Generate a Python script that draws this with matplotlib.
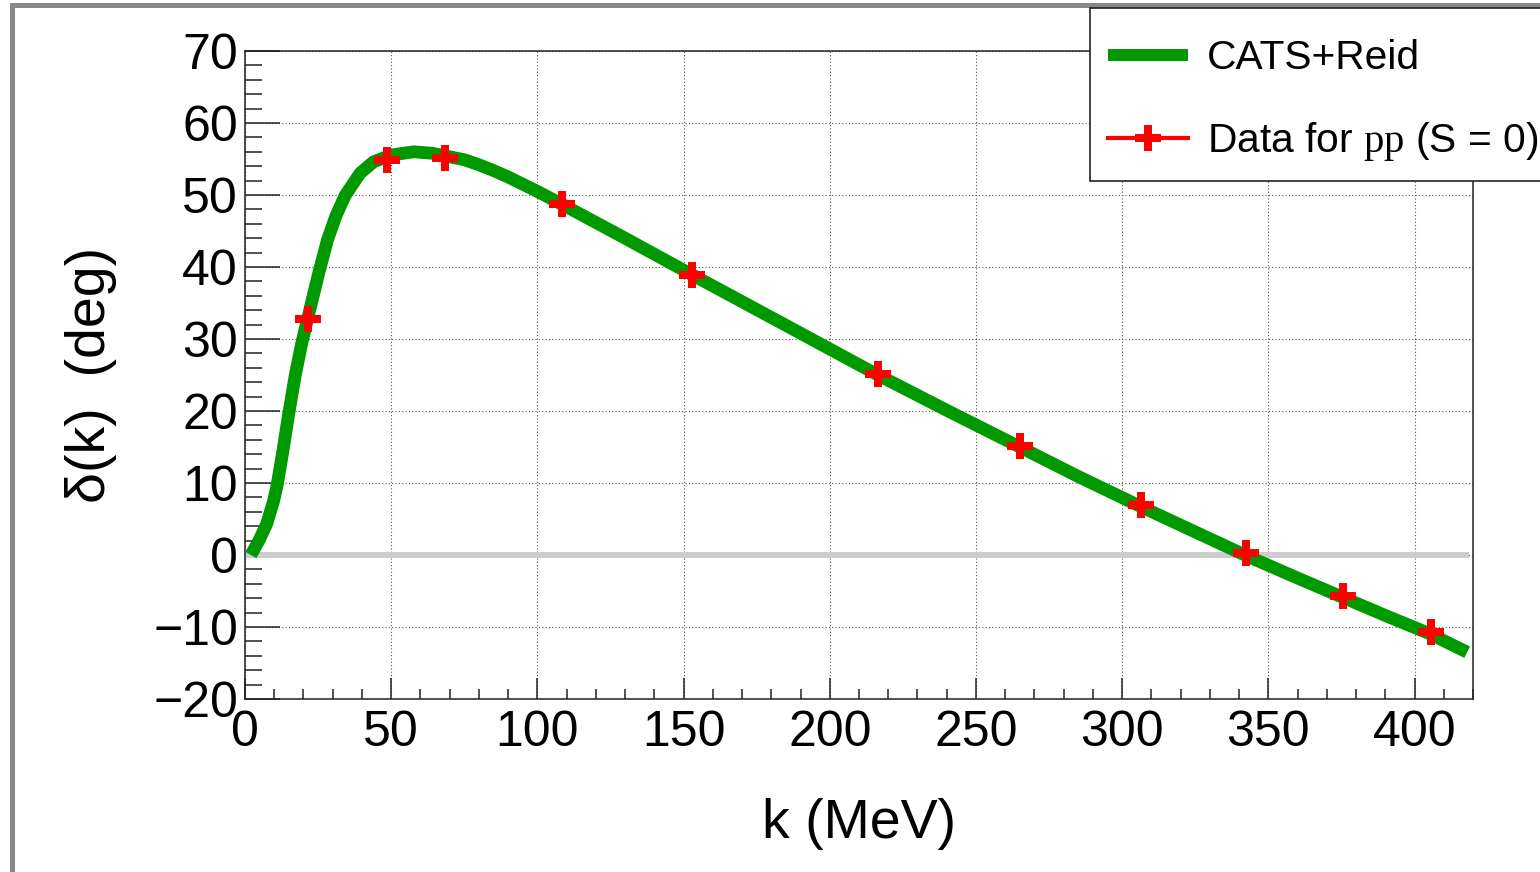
import matplotlib
matplotlib.use("Agg")
import matplotlib.pyplot as plt
from matplotlib.lines import Line2D
from matplotlib.patches import Rectangle
from matplotlib.ticker import MultipleLocator

plt.rcParams['font.family'] = ['Liberation Sans', 'DejaVu Sans']
plt.rcParams['mathtext.fontset'] = 'custom'
plt.rcParams['mathtext.rm'] = 'Liberation Serif'

# CATS+Reid curve
k_curve = [2, 3.4, 5, 7.4, 9.7, 10.95, 12.9, 14.9, 17.2, 19.5, 21.7, 25.3,
           28.2, 31, 34.2, 39.3, 43.9, 50, 57.6, 64, 70.1, 75, 80, 85, 90, 95,
           100, 108, 130, 153, 185, 216, 240, 265, 285, 306, 325, 343, 360,
           375, 390, 405, 418]
delta_curve = [0, 1.0, 2.2, 4.3, 7.4, 9.6, 14.3, 19.5, 25.0, 29.6, 33.3, 39.3,
               43.75, 47.0, 49.9, 53.0, 54.6, 55.55, 56.0, 55.8, 55.3, 54.9,
               54.2, 53.4, 52.5, 51.5, 50.5, 48.8, 44.0, 38.9, 31.9, 25.1,
               20.1, 15.0, 10.9, 6.8, 3.2, -0.2, -3.2, -5.8, -8.4, -10.9, -13.5]

# pp 1S0 data points
k_data = [21.6, 48.6, 68.4, 108.5, 153, 216.6, 265.2, 306.6, 342.5, 375.4, 405.5]
delta_data = [32.8, 54.9, 55.1, 48.75, 38.9, 25.1, 15.1, 6.9, 0.3, -5.7, -10.7]

green = '#009900'

fig = plt.figure(figsize=(15.4, 8.72), dpi=100)
ax = fig.add_axes([0.1591, 0.1984, 0.7974, 0.7431])

ax.hlines(0, 0, 418.5, color='#cccccc', lw=4.3, zorder=2)
ax.plot(k_curve, delta_curve, color=green, lw=9.2, solid_capstyle='butt',
        solid_joinstyle='round', zorder=3)
ax.plot(k_data, delta_data, ls='none', marker='P', ms=18.5, color='red',
        markeredgewidth=0, zorder=4)

ax.set_xlim(0, 420)
ax.set_ylim(-20, 70)
ax.xaxis.set_major_locator(MultipleLocator(50))
ax.xaxis.set_minor_locator(MultipleLocator(10))
ax.yaxis.set_major_locator(MultipleLocator(10))
ax.yaxis.set_minor_locator(MultipleLocator(2))
ax.tick_params(which='both', direction='in', top=False, right=False, width=1.1, color='#222222')
ax.tick_params(axis='x', which='major', length=15, labelsize=36, pad=8)
ax.tick_params(axis='x', which='minor', length=7.5)
ax.tick_params(axis='y', which='major', length=25, labelsize=36, pad=5)
ax.tick_params(axis='y', which='minor', length=12.5)
ax.grid(True, which='major', color='#555555', lw=0.8, ls=(0, (1, 2)))
for s in ax.spines.values():
    s.set_linewidth(1.1)
    s.set_color('#222222')

ax.set_xlabel('k (MeV)', fontsize=40, labelpad=30)
ax.set_ylabel('δ(k)  (deg)', fontsize=40, labelpad=26)

# legend box (runs off the right edge of the canvas)
fig.patches.append(Rectangle((1090 / 1540, 1 - 181 / 872), 0.5, 173 / 872,
                             transform=fig.transFigure, facecolor='white',
                             edgecolor='#222222', lw=1.2, clip_on=False, zorder=5))
handles = [Line2D([], [], color=green, lw=8.6, solid_capstyle='butt'),
           Line2D([], [], color='red', lw=3, marker='P', ms=18.5, markeredgewidth=0)]
labels = ['CATS+Reid', r'Data for $\mathrm{pp}$ (S = 0)']
leg = fig.legend(handles, labels, loc='upper left', bbox_to_anchor=(1108 / 1540, 0.9549),
                 fontsize=29.3, frameon=False, borderpad=0, labelspacing=1.06,
                 handlelength=1.97, handletextpad=0.47, borderaxespad=0)
leg.set_zorder(6)

# outer canvas border
fig.patches.append(Rectangle((12.5 / 1540, -0.1), 1.2, 1.1 - 5 / 872,
                             transform=fig.transFigure, fill=False,
                             edgecolor='#888888', lw=3.6, clip_on=False))

fig.savefig('out.png', dpi=100)
